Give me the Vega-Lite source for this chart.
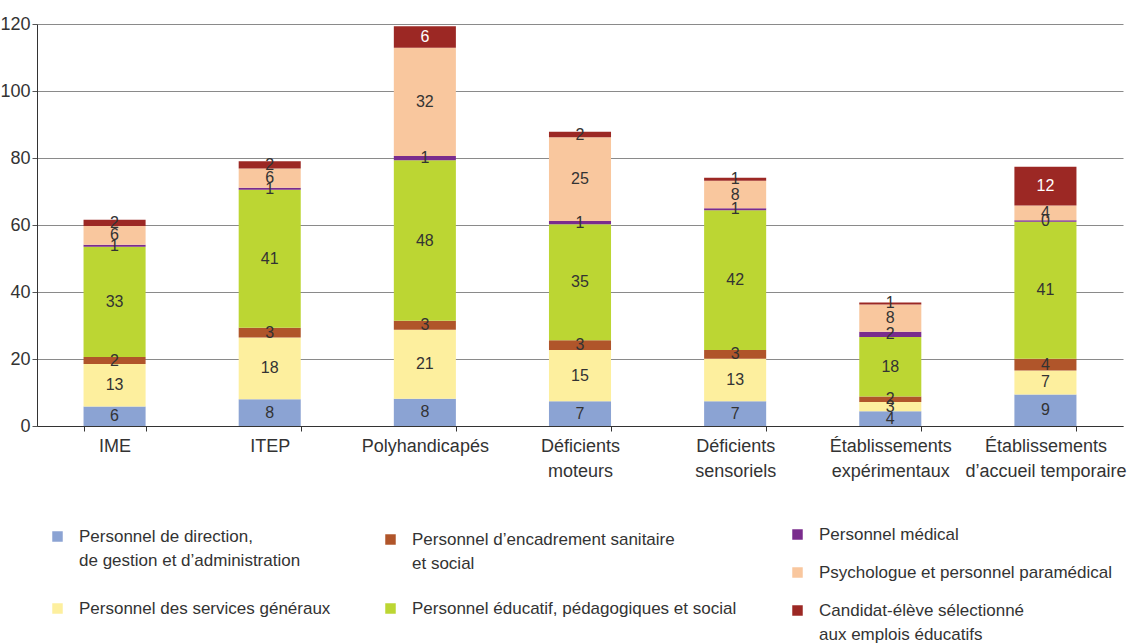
{
  "$schema": "https://vega.github.io/schema/vega-lite/v6.json",
  "autosize": "none",
  "width": 1086,
  "height": 402,
  "padding": {"left": 37, "top": 24, "right": 9, "bottom": 218},
  "background": "white",
  "config": {
    "font": "Liberation Sans, Arial, sans-serif",
    "view": {"stroke": null},
    "style": {"guide-label": {"lineHeight": 24}}
  },
  "data": {"values": [
    {"cat": "IME", "k": 1, "serie": "Personnel de direction,|de gestion et d’administration", "value": 5.8},
    {"cat": "IME", "k": 2, "serie": "Personnel des services généraux", "value": 12.7},
    {"cat": "IME", "k": 3, "serie": "Personnel d’encadrement sanitaire|et social", "value": 2.1},
    {"cat": "IME", "k": 4, "serie": "Personnel éducatif, pédagogiques et social", "value": 32.9},
    {"cat": "IME", "k": 5, "serie": "Personnel médical", "value": 0.6},
    {"cat": "IME", "k": 6, "serie": "Psychologue et personnel paramédical", "value": 5.6},
    {"cat": "IME", "k": 7, "serie": "Candidat-élève sélectionné|aux emplois éducatifs", "value": 1.9},
    {"cat": "ITEP", "k": 1, "serie": "Personnel de direction,|de gestion et d’administration", "value": 8.0},
    {"cat": "ITEP", "k": 2, "serie": "Personnel des services généraux", "value": 18.4},
    {"cat": "ITEP", "k": 3, "serie": "Personnel d’encadrement sanitaire|et social", "value": 2.9},
    {"cat": "ITEP", "k": 4, "serie": "Personnel éducatif, pédagogiques et social", "value": 41.2},
    {"cat": "ITEP", "k": 5, "serie": "Personnel médical", "value": 0.6},
    {"cat": "ITEP", "k": 6, "serie": "Psychologue et personnel paramédical", "value": 5.8},
    {"cat": "ITEP", "k": 7, "serie": "Candidat-élève sélectionné|aux emplois éducatifs", "value": 2.1},
    {"cat": "Polyhandicapés", "k": 1, "serie": "Personnel de direction,|de gestion et d’administration", "value": 8.1},
    {"cat": "Polyhandicapés", "k": 2, "serie": "Personnel des services généraux", "value": 20.6},
    {"cat": "Polyhandicapés", "k": 3, "serie": "Personnel d’encadrement sanitaire|et social", "value": 2.7},
    {"cat": "Polyhandicapés", "k": 4, "serie": "Personnel éducatif, pédagogiques et social", "value": 47.9},
    {"cat": "Polyhandicapés", "k": 5, "serie": "Personnel médical", "value": 1.3},
    {"cat": "Polyhandicapés", "k": 6, "serie": "Psychologue et personnel paramédical", "value": 32.3},
    {"cat": "Polyhandicapés", "k": 7, "serie": "Candidat-élève sélectionné|aux emplois éducatifs", "value": 6.4},
    {"cat": "Déficients|moteurs", "k": 1, "serie": "Personnel de direction,|de gestion et d’administration", "value": 7.4},
    {"cat": "Déficients|moteurs", "k": 2, "serie": "Personnel des services généraux", "value": 15.3},
    {"cat": "Déficients|moteurs", "k": 3, "serie": "Personnel d’encadrement sanitaire|et social", "value": 2.9},
    {"cat": "Déficients|moteurs", "k": 4, "serie": "Personnel éducatif, pédagogiques et social", "value": 34.6},
    {"cat": "Déficients|moteurs", "k": 5, "serie": "Personnel médical", "value": 1.0},
    {"cat": "Déficients|moteurs", "k": 6, "serie": "Psychologue et personnel paramédical", "value": 25.0},
    {"cat": "Déficients|moteurs", "k": 7, "serie": "Candidat-élève sélectionné|aux emplois éducatifs", "value": 1.6},
    {"cat": "Déficients|sensoriels", "k": 1, "serie": "Personnel de direction,|de gestion et d’administration", "value": 7.4},
    {"cat": "Déficients|sensoriels", "k": 2, "serie": "Personnel des services généraux", "value": 12.7},
    {"cat": "Déficients|sensoriels", "k": 3, "serie": "Personnel d’encadrement sanitaire|et social", "value": 2.6},
    {"cat": "Déficients|sensoriels", "k": 4, "serie": "Personnel éducatif, pédagogiques et social", "value": 41.7},
    {"cat": "Déficients|sensoriels", "k": 5, "serie": "Personnel médical", "value": 0.6},
    {"cat": "Déficients|sensoriels", "k": 6, "serie": "Psychologue et personnel paramédical", "value": 8.2},
    {"cat": "Déficients|sensoriels", "k": 7, "serie": "Candidat-élève sélectionné|aux emplois éducatifs", "value": 0.9},
    {"cat": "Établissements|expérimentaux", "k": 1, "serie": "Personnel de direction,|de gestion et d’administration", "value": 4.4},
    {"cat": "Établissements|expérimentaux", "k": 2, "serie": "Personnel des services généraux", "value": 2.8},
    {"cat": "Établissements|expérimentaux", "k": 3, "serie": "Personnel d’encadrement sanitaire|et social", "value": 1.6},
    {"cat": "Établissements|expérimentaux", "k": 4, "serie": "Personnel éducatif, pédagogiques et social", "value": 17.8},
    {"cat": "Établissements|expérimentaux", "k": 5, "serie": "Personnel médical", "value": 1.5},
    {"cat": "Établissements|expérimentaux", "k": 6, "serie": "Psychologue et personnel paramédical", "value": 8.2},
    {"cat": "Établissements|expérimentaux", "k": 7, "serie": "Candidat-élève sélectionné|aux emplois éducatifs", "value": 0.6},
    {"cat": "Établissements|d’accueil temporaire", "k": 1, "serie": "Personnel de direction,|de gestion et d’administration", "value": 9.4},
    {"cat": "Établissements|d’accueil temporaire", "k": 2, "serie": "Personnel des services généraux", "value": 7.2},
    {"cat": "Établissements|d’accueil temporaire", "k": 3, "serie": "Personnel d’encadrement sanitaire|et social", "value": 3.5},
    {"cat": "Établissements|d’accueil temporaire", "k": 4, "serie": "Personnel éducatif, pédagogiques et social", "value": 40.9},
    {"cat": "Établissements|d’accueil temporaire", "k": 5, "serie": "Personnel médical", "value": 0.4},
    {"cat": "Établissements|d’accueil temporaire", "k": 6, "serie": "Psychologue et personnel paramédical", "value": 4.4},
    {"cat": "Établissements|d’accueil temporaire", "k": 7, "serie": "Candidat-élève sélectionné|aux emplois éducatifs", "value": 11.6}
  ]},
  "transform": [
    {"stack": "value", "groupby": ["cat"], "sort": [{"field": "k", "order": "ascending"}], "as": ["y0", "y1"]},
    {"calculate": "(datum.y0 + datum.y1) / 2", "as": "ymid"}
  ],
  "encoding": {
    "x": {
      "field": "cat", "type": "nominal", "sort": null,
      "scale": {"paddingInner": 0.6, "paddingOuter": 0.3},
      "axis": {
        "title": null, "labelAngle": 0, "tickBand": "extent",
        "labelExpr": "split(datum.label, '|')",
        "labelFontSize": 18, "labelColor": "#333", "labelPadding": 6, "labelLineHeight": 25,
        "domainColor": "#333", "tickColor": "#333", "tickSize": 5, "labelBaseline": "top", "labelLimit": 0
      }
    }
  },
  "layer": [
    {
      "transform": [{"filter": "datum.k <= 2"}],
      "mark": {"type": "bar"},
      "encoding": {
        "y": {"field": "y0", "type": "quantitative", "scale": {"domain": [0, 120]},
          "axis": {"title": null, "values": [0, 20, 40, 60, 80, 100, 120], "grid": true, "gridColor": "#8a8a8a",
            "labelFontSize": 18, "labelColor": "#333", "domainColor": "#333", "tickColor": "#555", "tickSize": 5, "labelPadding": 2}},
        "y2": {"field": "y1"},
        "color": {"field": "serie", "type": "nominal",
          "scale": {"domain": ["Personnel de direction,|de gestion et d’administration", "Personnel des services généraux"], "range": ["#8ba3d3", "#fdef9e"]},
          "legend": {"title": null, "orient": "none", "legendX": 12, "legendY": 504, "labelExpr": "split(datum.label, '|')",
            "symbolType": "square", "symbolSize": 110, "symbolStrokeWidth": 0, "labelFontSize": 17, "labelColor": "#333",
            "labelOffset": 13, "rowPadding": 30, "labelLimit": 0}}
      }
    },
    {
      "transform": [{"filter": "datum.k == 3 || datum.k == 4"}],
      "mark": {"type": "bar"},
      "encoding": {
        "y": {"field": "y0", "type": "quantitative"},
        "y2": {"field": "y1"},
        "color": {"field": "serie", "type": "nominal",
          "scale": {"domain": ["Personnel d’encadrement sanitaire|et social", "Personnel éducatif, pédagogiques et social"], "range": ["#b0552a", "#bcd633"]},
          "legend": {"title": null, "orient": "none", "legendX": 345, "legendY": 507, "labelExpr": "split(datum.label, '|')",
            "symbolType": "square", "symbolSize": 110, "symbolStrokeWidth": 0, "labelFontSize": 17, "labelColor": "#333",
            "labelOffset": 13, "rowPadding": 27, "labelLimit": 0}}
      }
    },
    {
      "transform": [{"filter": "datum.k >= 5"}],
      "mark": {"type": "bar"},
      "encoding": {
        "y": {"field": "y0", "type": "quantitative"},
        "y2": {"field": "y1"},
        "color": {"field": "serie", "type": "nominal",
          "scale": {"domain": ["Personnel médical", "Psychologue et personnel paramédical", "Candidat-élève sélectionné|aux emplois éducatifs"], "range": ["#7a2c8d", "#f9c79e", "#9c2824"]},
          "legend": {"title": null, "orient": "none", "legendX": 752, "legendY": 502, "labelExpr": "split(datum.label, '|')",
            "symbolType": "square", "symbolSize": 110, "symbolStrokeWidth": 0, "labelFontSize": 17, "labelColor": "#333",
            "labelOffset": 13, "rowPadding": 20, "labelLimit": 0}}
      }
    },
    {
      "mark": {"type": "text", "fontSize": 16, "baseline": "middle", "align": "center"},
      "encoding": {
        "y": {"field": "ymid", "type": "quantitative"},
        "text": {"field": "value", "type": "quantitative", "format": ".0f"},
        "color": {"condition": {"test": "datum.k == 7 && datum.value >= 4", "value": "white"}, "value": "#333"}
      }
    }
  ],
  "resolve": {"scale": {"color": "independent"}, "legend": {"color": "independent"}}
}
